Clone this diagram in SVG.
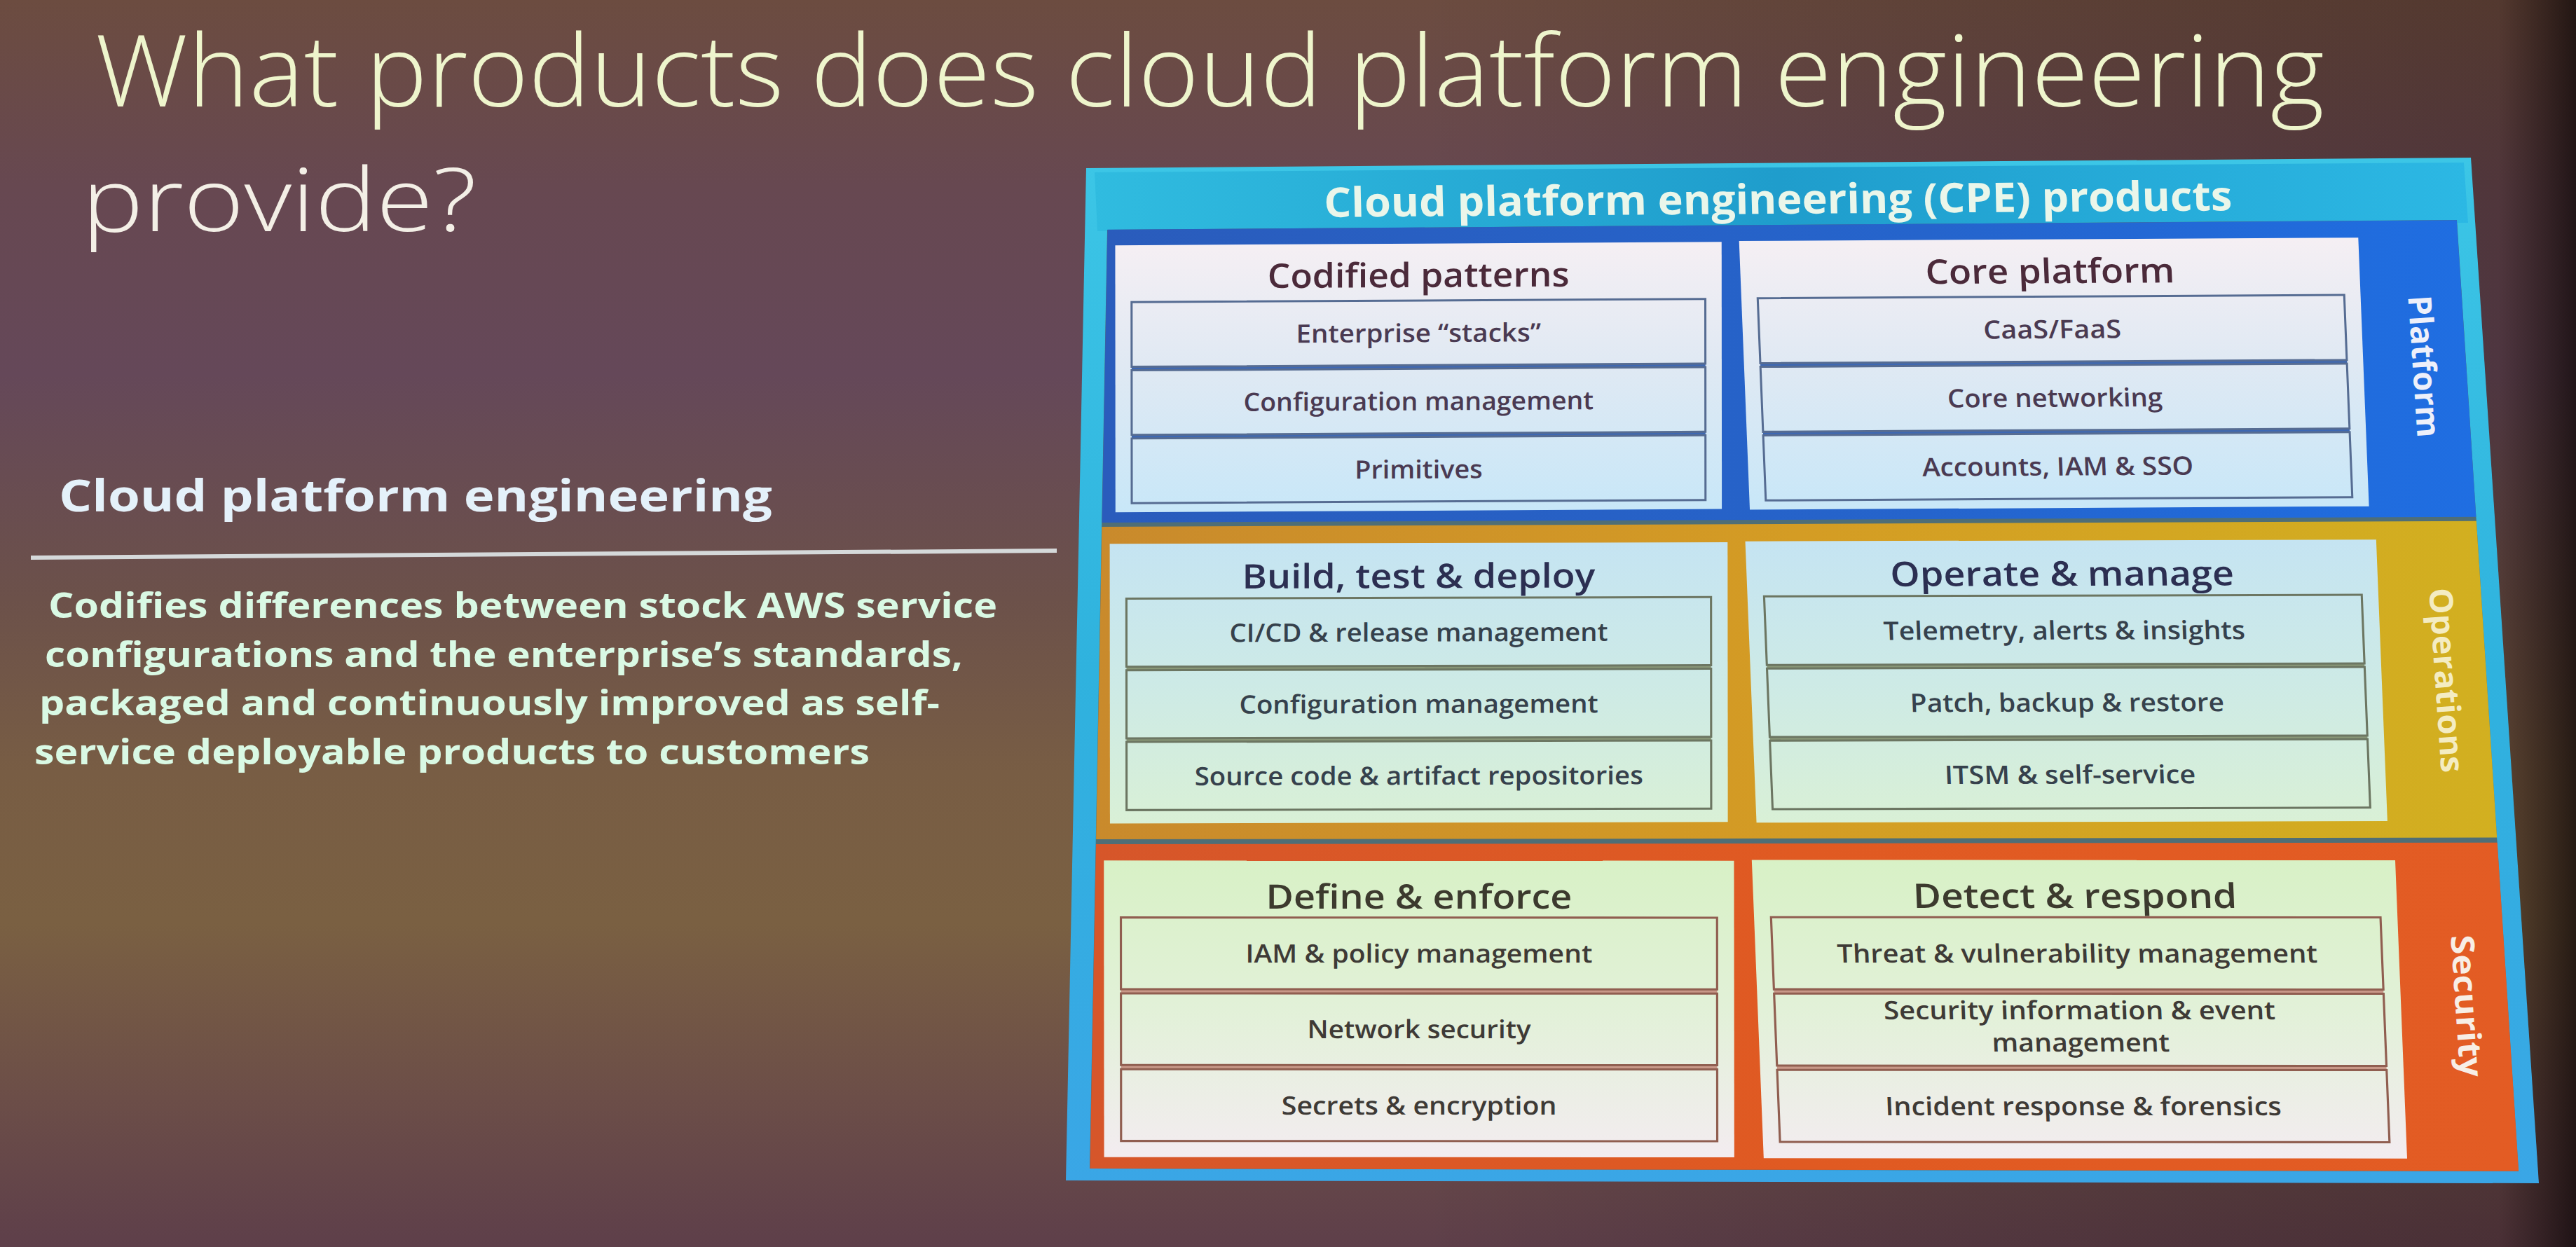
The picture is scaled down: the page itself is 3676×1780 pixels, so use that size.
<svg xmlns="http://www.w3.org/2000/svg" width="3676" height="1780" viewBox="0 0 3676 1780">
<style>
text { font-family: "Open Sans", "Noto Sans", "Liberation Sans", sans-serif; }
.st { font-size: 142px; font-weight: 300; fill: #eef5cc; }
.lh { font-size: 62px; font-weight: 700; fill: #e4f1fa; }
.lp { font-size: 50px; font-weight: 700; fill: #d9f9e4; }
.t { font-size: 58px; font-weight: 700; fill: #eaf6ea; text-anchor: middle; }
.h { font-size: 48px; font-weight: 600; text-anchor: middle; }
.it { font-size: 36px; font-weight: 600; text-anchor: middle; }
.lbl { font-size: 46px; font-weight: 700; text-anchor: middle; }
.hp { fill: #4b2a3a; } .ip { fill: #4a3a52; }
.ho { fill: #2c2f52; } .io { fill: #36414c; }
.hs { fill: #3c3a2e; } .is { fill: #3e3a36; }
.bp { fill: url(#gP); stroke: #566c92; stroke-width: 3; }
.bo { fill: url(#gO); stroke: #6c7662; stroke-width: 3; }
.bs { fill: url(#gS); stroke: #905e50; stroke-width: 3; }
</style>
<defs>
 <linearGradient id="bg" x1="0" y1="0" x2="0" y2="1">
  <stop offset="0" stop-color="#6c4c40"/>
  <stop offset="0.15" stop-color="#674851"/>
  <stop offset="0.3" stop-color="#654859"/>
  <stop offset="0.48" stop-color="#6c514a"/>
  <stop offset="0.62" stop-color="#785d44"/>
  <stop offset="0.74" stop-color="#7a6042"/>
  <stop offset="0.88" stop-color="#6c4e48"/>
  <stop offset="1" stop-color="#5e3f4a"/>
 </linearGradient>
 <linearGradient id="shade" x1="0" y1="0" x2="1" y2="0">
  <stop offset="0" stop-color="#000" stop-opacity="0"/>
  <stop offset="0.55" stop-color="#000" stop-opacity="0"/>
  <stop offset="0.97" stop-color="#1a0c08" stop-opacity="0.3"/>
  <stop offset="1" stop-color="#0a0404" stop-opacity="0.75"/>
 </linearGradient>
 <linearGradient id="frame" gradientUnits="userSpaceOnUse" x1="0" y1="225" x2="0" y2="1690">
  <stop offset="0" stop-color="#3cc6e6"/>
  <stop offset="0.5" stop-color="#2fb2de"/>
  <stop offset="1" stop-color="#3aa6e6"/>
 </linearGradient>
 <linearGradient id="titlebar" gradientUnits="userSpaceOnUse" x1="1550" y1="0" x2="3526" y2="0">
  <stop offset="0" stop-color="#30bce0"/>
  <stop offset="0.5" stop-color="#1f9dcc"/>
  <stop offset="1" stop-color="#2cb8e4"/>
 </linearGradient>
 <linearGradient id="bandP" gradientUnits="userSpaceOnUse" x1="1572" y1="0" x2="3534" y2="0">
  <stop offset="0" stop-color="#2a5cbc"/>
  <stop offset="0.6" stop-color="#2564cc"/>
  <stop offset="1" stop-color="#1f6ee2"/>
 </linearGradient>
 <linearGradient id="bandO" gradientUnits="userSpaceOnUse" x1="1564" y1="0" x2="3564" y2="0">
  <stop offset="0" stop-color="#c98a2c"/>
  <stop offset="0.5" stop-color="#d49c24"/>
  <stop offset="1" stop-color="#d2b020"/>
 </linearGradient>
 <linearGradient id="bandS" gradientUnits="userSpaceOnUse" x1="1555" y1="0" x2="3594" y2="0">
  <stop offset="0" stop-color="#d6562a"/>
  <stop offset="0.5" stop-color="#e05a22"/>
  <stop offset="1" stop-color="#e35c24"/>
 </linearGradient>
 <linearGradient id="gP" gradientUnits="userSpaceOnUse" x1="0" y1="351" x2="0" y2="731">
  <stop offset="0" stop-color="#f5eff3"/>
  <stop offset="0.45" stop-color="#e0e9f3"/>
  <stop offset="1" stop-color="#c8e7f8"/>
 </linearGradient>
 <linearGradient id="gO" gradientUnits="userSpaceOnUse" x1="0" y1="777" x2="0" y2="1175">
  <stop offset="0" stop-color="#c5e4f2"/>
  <stop offset="0.5" stop-color="#cdeae6"/>
  <stop offset="1" stop-color="#d9f0d6"/>
 </linearGradient>
 <linearGradient id="gS" gradientUnits="userSpaceOnUse" x1="0" y1="1229" x2="0" y2="1651">
  <stop offset="0" stop-color="#d8f1c6"/>
  <stop offset="0.5" stop-color="#e2f1d8"/>
  <stop offset="1" stop-color="#f3ecf0"/>
 </linearGradient>
</defs>

<rect x="0" y="0" width="3676" height="1780" fill="url(#bg)"/>
<rect x="0" y="0" width="3676" height="1780" fill="url(#shade)"/>

<g id="slide-title">
 <text x="136" y="152" class="st" textLength="3181" lengthAdjust="spacingAndGlyphs">What products does cloud platform engineering</text>
 <text x="117" y="330" class="st" textLength="563" lengthAdjust="spacingAndGlyphs" style="fill:#f3efe6;font-size:126px">provide?</text>
</g>

<g id="definition">
 <text x="84" y="730" class="lh" textLength="1018" lengthAdjust="spacingAndGlyphs">Cloud platform engineering</text>
 <line x1="44" y1="796" x2="1508" y2="786" stroke="#d5d9da" stroke-width="6"/>
 <text x="69" y="882" class="lp" textLength="1354" lengthAdjust="spacingAndGlyphs">Codifies differences between stock AWS service</text>
 <text x="64" y="952" class="lp" textLength="1310" lengthAdjust="spacingAndGlyphs">configurations and the enterprise’s standards,</text>
 <text x="56" y="1021" class="lp" textLength="1285" lengthAdjust="spacingAndGlyphs">packaged and continuously improved as self-</text>
 <text x="49" y="1091" class="lp" textLength="1192" lengthAdjust="spacingAndGlyphs">service deployable products to customers</text>
</g>

<g id="cpe-frame">
 <polygon points="1550,240 3526,225 3623,1689 1521,1685" fill="url(#frame)"/>
 <polygon points="1562,246 3516,232 3522,318 1566,330" fill="url(#titlebar)"/>
 <polygon points="1580,328 3506,314 3594,1672 1555,1668" fill="#4f6e76"/>
 <polygon id="band-platform" points="1580.4,327.8 3505.8,314.3 3533.4,737.8 1572.6,745.9" fill="url(#bandP)"/>
 <polygon id="band-operations" points="1572.4,751.9 3533.8,743.8 3563.2,1195.6 1564.1,1198" fill="url(#bandO)"/>
 <polygon id="band-security" points="1564,1205 3563.7,1202.7 3594.2,1671.7 1555.4,1668.1" fill="url(#bandS)"/>
</g>

<g id="cpe-title" transform="matrix(1.0022,-0.007258,0.02344,1.00656,-11.21,9.35)">
 <text x="2536" y="312" class="t" textLength="1293" lengthAdjust="spacingAndGlyphs">Cloud platform engineering (CPE) products</text>
</g>

<g id="codified-patterns" transform="matrix(1.01328,-0.005588,0.000851,1.003154,-27.08,6.95)">
 <rect x="1597" y="351" width="854" height="380" fill="url(#gP)"/>
 <text x="2024" y="413" class="h hp" textLength="425" lengthAdjust="spacingAndGlyphs">Codified patterns</text>
 <rect x="1620" y="432" width="808" height="286" fill="#3d68b4"/>
 <rect x="1620" y="432" width="808" height="92" class="bp"/>
 <rect x="1620" y="529" width="808" height="92" class="bp"/>
 <rect x="1620" y="626" width="808" height="92" class="bp"/>
 <text x="2024" y="491" class="it ip" textLength="345" lengthAdjust="spacingAndGlyphs">Enterprise “stacks”</text>
 <text x="2024" y="588" class="it ip" textLength="493" lengthAdjust="spacingAndGlyphs">Configuration management</text>
 <text x="2024" y="685" class="it ip" textLength="180" lengthAdjust="spacingAndGlyphs">Primitives</text>
</g>

<g id="core-platform" transform="matrix(1.01328,-0.005588,0.04034,1.00911,-48.44,3.73)">
 <rect x="2483" y="351" width="872" height="380" fill="url(#gP)"/>
 <text x="2919" y="413" class="h hp" textLength="351" lengthAdjust="spacingAndGlyphs">Core platform</text>
 <rect x="2506" y="432" width="826" height="286" fill="#3d68b4"/>
 <rect x="2506" y="432" width="826" height="92" class="bp"/>
 <rect x="2506" y="529" width="826" height="92" class="bp"/>
 <rect x="2506" y="626" width="826" height="92" class="bp"/>
 <text x="2919" y="491" class="it ip" textLength="194" lengthAdjust="spacingAndGlyphs">CaaS/FaaS</text>
 <text x="2919" y="588" class="it ip" textLength="303" lengthAdjust="spacingAndGlyphs">Core networking</text>
 <text x="2919" y="685" class="it ip" textLength="382" lengthAdjust="spacingAndGlyphs">Accounts, IAM &amp; SSO</text>
</g>

<g id="build-test-deploy" transform="matrix(1.03248,-0.002694,0.000851,1.003154,-65.94,1.09)">
 <rect x="1597" y="777" width="854" height="398" fill="url(#gO)"/>
 <text x="2024" y="841" class="h ho" textLength="488" lengthAdjust="spacingAndGlyphs">Build, test &amp; deploy</text>
 <rect x="1620" y="855" width="808" height="301" fill="#8a9878"/>
 <rect x="1620" y="855" width="808" height="97" class="bo"/>
 <rect x="1620" y="957" width="808" height="97" class="bo"/>
 <rect x="1620" y="1059" width="808" height="97" class="bo"/>
 <text x="2024" y="917" class="it io" textLength="523" lengthAdjust="spacingAndGlyphs">CI/CD &amp; release management</text>
 <text x="2024" y="1019" class="it io" textLength="496" lengthAdjust="spacingAndGlyphs">Configuration management</text>
 <text x="2024" y="1121" class="it io" textLength="620" lengthAdjust="spacingAndGlyphs">Source code &amp; artifact repositories</text>
</g>

<g id="operate-manage" transform="matrix(1.03248,-0.002694,0.04034,1.00911,-104.49,-4.72)">
 <rect x="2483" y="777" width="872" height="398" fill="url(#gO)"/>
 <text x="2919" y="841" class="h ho" textLength="475" lengthAdjust="spacingAndGlyphs">Operate &amp; manage</text>
 <rect x="2506" y="855" width="826" height="301" fill="#8a9878"/>
 <rect x="2506" y="855" width="826" height="97" class="bo"/>
 <rect x="2506" y="957" width="826" height="97" class="bo"/>
 <rect x="2506" y="1059" width="826" height="97" class="bo"/>
 <text x="2919" y="917" class="it io" textLength="500" lengthAdjust="spacingAndGlyphs">Telemetry, alerts &amp; insights</text>
 <text x="2919" y="1019" class="it io" textLength="434" lengthAdjust="spacingAndGlyphs">Patch, backup &amp; restore</text>
 <text x="2919" y="1121" class="it io" textLength="347" lengthAdjust="spacingAndGlyphs">ITSM &amp; self-service</text>
</g>

<g id="define-enforce" transform="matrix(1.05296,0.000394,0.000851,1.003154,-107.40,-5.15)">
 <rect x="1597" y="1229" width="854" height="422" fill="url(#gS)"/>
 <text x="2024" y="1297" class="h hs" textLength="415" lengthAdjust="spacingAndGlyphs">Define &amp; enforce</text>
 <rect x="1620" y="1310" width="808" height="318" fill="#c89888"/>
 <rect x="1620" y="1310" width="808" height="102" class="bs"/>
 <rect x="1620" y="1418" width="808" height="102" class="bs"/>
 <rect x="1620" y="1526" width="808" height="102" class="bs"/>
 <text x="2024" y="1374" class="it is" textLength="470" lengthAdjust="spacingAndGlyphs">IAM &amp; policy management</text>
 <text x="2024" y="1482" class="it is" textLength="303" lengthAdjust="spacingAndGlyphs">Network security</text>
 <text x="2024" y="1590" class="it is" textLength="373" lengthAdjust="spacingAndGlyphs">Secrets &amp; encryption</text>
</g>

<g id="detect-respond" transform="matrix(1.05296,0.000394,0.04034,1.00911,-164.27,-13.73)">
 <rect x="2483" y="1229" width="872" height="422" fill="url(#gS)"/>
 <text x="2919" y="1297" class="h hs" textLength="439" lengthAdjust="spacingAndGlyphs">Detect &amp; respond</text>
 <rect x="2506" y="1310" width="826" height="318" fill="#c89888"/>
 <rect x="2506" y="1310" width="826" height="102" class="bs"/>
 <rect x="2506" y="1418" width="826" height="102" class="bs"/>
 <rect x="2506" y="1526" width="826" height="102" class="bs"/>
 <text x="2919" y="1374" class="it is" textLength="651" lengthAdjust="spacingAndGlyphs">Threat &amp; vulnerability management</text>
 <text x="2919" y="1454" class="it is" textLength="531" lengthAdjust="spacingAndGlyphs">Security information &amp; event</text>
 <text x="2919" y="1500" class="it is" textLength="241" lengthAdjust="spacingAndGlyphs">management</text>
 <text x="2919" y="1590" class="it is" textLength="537" lengthAdjust="spacingAndGlyphs">Incident response &amp; forensics</text>
</g>

<g id="label-platform">
 <text transform="translate(3459,523) rotate(86.2)" dy="16" class="lbl" fill="#eef0fa" textLength="203" lengthAdjust="spacingAndGlyphs">Platform</text>
</g>
<g id="label-operations">
 <text transform="translate(3491,971) rotate(86.2)" dy="16" class="lbl" fill="#f4ecc2" textLength="264" lengthAdjust="spacingAndGlyphs">Operations</text>
</g>
<g id="label-security">
 <text transform="translate(3520,1436) rotate(86.2)" dy="16" class="lbl" fill="#f7eee6" textLength="203" lengthAdjust="spacingAndGlyphs">Security</text>
</g>

<g id="connectors"/>
</svg>
